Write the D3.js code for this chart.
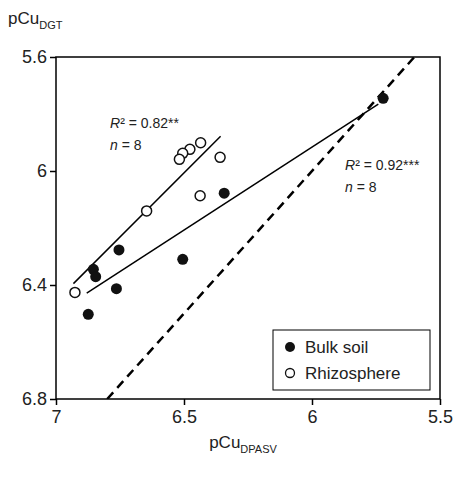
<!DOCTYPE html>
<html><head><meta charset="utf-8">
<script src="https://cdn.jsdelivr.net/npm/d3@7"></script>
<style>body{margin:0;background:#fff}svg{font-family:Arial,"Liberation Sans",sans-serif}</style>
</head><body><div id="chart"></div>
<script>
const bulkX = [5.722, 6.343, 6.505, 6.754, 6.854, 6.845, 6.764, 6.874];
const bulkY = [5.745, 6.078, 6.310, 6.277, 6.345, 6.371, 6.413, 6.503];
const rhizoX = [6.926, 6.646, 6.437, 6.359, 6.435, 6.477, 6.505, 6.518];
const rhizoY = [6.426, 6.140, 6.087, 5.952, 5.901, 5.924, 5.938, 5.959];
const xTicks = [7, 6.5, 6, 5.5];
const yTicks = [5.6, 6, 6.4, 6.8];

const width = 459, height = 478;
const margin = {top: 57, left: 56, right: 19, bottom: 79};
const svg = d3.select("#chart").append("svg").attr("width", width).attr("height", height);
const x = d3.scaleLinear().domain([7, 5.5]).range([margin.left, width - margin.right]);
const y = d3.scaleLinear().domain([5.6, 6.8]).range([margin.top, height - margin.bottom]);

svg.append("defs").append("clipPath").attr("id", "clip").append("rect")
  .attr("x", x(7)).attr("y", y(5.6)).attr("width", x(5.5) - x(7)).attr("height", y(6.8) - y(5.6));

svg.append("g").attr("transform", `translate(0,${y(6.8)})`)
  .call(d3.axisBottom(x).tickValues(xTicks).tickFormat(d3.format("")).tickSize(6))
  .call(g => g.selectAll("text").attr("font-size", 18).attr("dy", "0.85em").attr("fill", "#222"));
svg.append("g").attr("transform", `translate(${x(7)},0)`)
  .call(d3.axisLeft(y).tickValues(yTicks).tickFormat(d3.format("")).tickSize(6))
  .call(g => g.selectAll("text").attr("font-size", 18).attr("fill", "#222"));
svg.selectAll(".domain").remove();
svg.selectAll(".tick line").attr("stroke-width", 1.5);
svg.append("rect").attr("x", x(7)).attr("y", y(5.6))
  .attr("width", x(5.5) - x(7)).attr("height", y(6.8) - y(5.6))
  .attr("fill", "none").attr("stroke", "#000").attr("stroke-width", 1.5);

// 1:1 line
svg.append("line").attr("clip-path", "url(#clip)")
  .attr("x1", x(6.8)).attr("y1", y(6.8)).attr("x2", x(5.6)).attr("y2", y(5.6))
  .attr("stroke", "#000").attr("stroke-width", 2.5).attr("stroke-dasharray", "9,6");

function fit(xs, ys) {
  const mx = d3.mean(xs), my = d3.mean(ys);
  const b = d3.sum(xs, (v, i) => (v - mx) * (ys[i] - my)) / d3.sum(xs, v => (v - mx) ** 2);
  return v => my + b * (v - mx);
}
const fr = fit(rhizoX, rhizoY), fb = fit(bulkX, bulkY);
[[fr, 6.932, 6.357], [fb, 6.880, 5.741]].forEach(([f, a, b]) => {
  svg.append("line").attr("x1", x(a)).attr("y1", y(f(a))).attr("x2", x(b)).attr("y2", y(f(b)))
    .attr("stroke", "#000").attr("stroke-width", 1.5);
});

svg.selectAll(".bulk").data(bulkX).join("circle")
  .attr("cx", d => x(d)).attr("cy", (d, i) => y(bulkY[i])).attr("r", 5.5).attr("fill", "#111");
svg.selectAll(".rhizo").data(rhizoX).join("circle")
  .attr("cx", d => x(d)).attr("cy", (d, i) => y(rhizoY[i])).attr("r", 5)
  .attr("fill", "#fff").attr("stroke", "#111").attr("stroke-width", 1.5);

function stat(tx, ty, r) {
  const t = svg.append("text").attr("x", tx).attr("y", ty).attr("font-size", 14).attr("fill", "#222");
  t.append("tspan").attr("font-style", "italic").text("R");
  t.append("tspan").text("² = " + r);
  const n = svg.append("text").attr("x", tx).attr("y", ty + 22).attr("font-size", 14).attr("fill", "#222");
  n.append("tspan").attr("font-style", "italic").text("n");
  n.append("tspan").text(" = 8");
}
stat(110, 128, "0.82**");
stat(345, 170, "0.92***");

// legend
const lg = svg.append("g");
lg.append("rect").attr("x", 273).attr("y", 330).attr("width", 157).attr("height", 60)
  .attr("fill", "#fff").attr("stroke", "#000").attr("stroke-width", 1);
lg.append("circle").attr("cx", 290).attr("cy", 347).attr("r", 5).attr("fill", "#111");
lg.append("circle").attr("cx", 290).attr("cy", 373).attr("r", 4.5).attr("fill", "#fff").attr("stroke", "#111").attr("stroke-width", 1.3);
lg.append("text").attr("x", 305).attr("y", 353).attr("font-size", 17).attr("fill", "#222").text("Bulk soil");
lg.append("text").attr("x", 305).attr("y", 379).attr("font-size", 17).attr("fill", "#222").text("Rhizosphere");

const yl = svg.append("text").attr("x", 8).attr("y", 24).attr("font-size", 17).attr("fill", "#222").text("pCu");
yl.append("tspan").attr("font-size", 11).attr("dy", 5).text("DGT");
const xl = svg.append("text").attr("x", 243).attr("y", 448).attr("text-anchor", "middle").attr("font-size", 17).attr("fill", "#222").text("pCu");
xl.append("tspan").attr("font-size", 11).attr("dy", 5).text("DPASV");
</script></body></html>
